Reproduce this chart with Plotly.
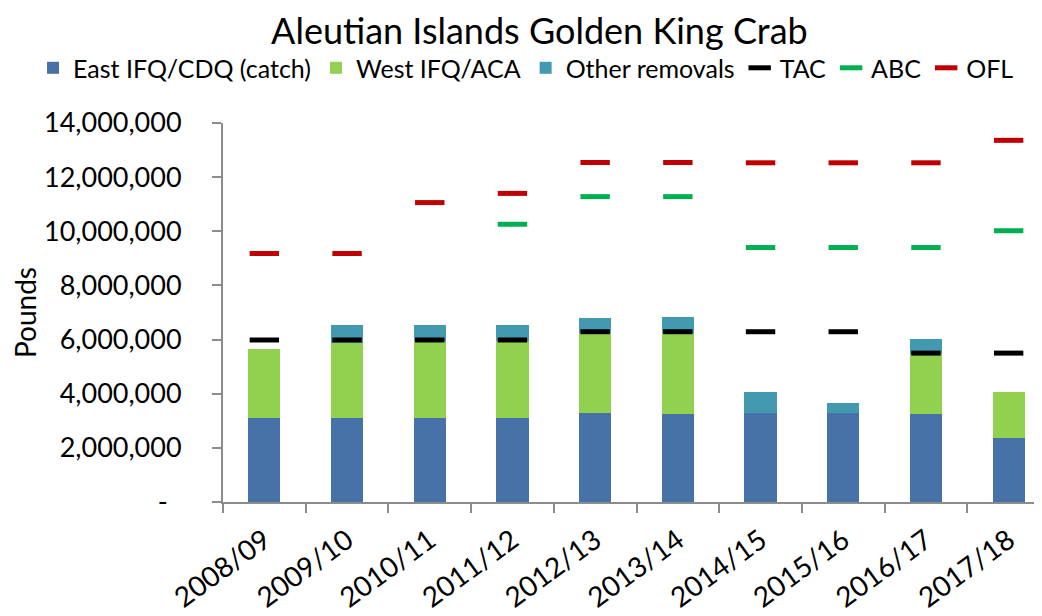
import plotly.graph_objects as go

seasons = ["2008/09", "2009/10", "2010/11", "2011/12", "2012/13",
           "2013/14", "2014/15", "2015/16", "2016/17", "2017/18"]
east_catch = [3110000, 3110000, 3110000, 3110000, 3280000,
              3260000, 3280000, 3280000, 3260000, 2370000]
west_catch = [2540000, 2760000, 2830000, 2830000, 2960000,
              2980000, 0, 0, 2200000, 1690000]
other_removals = [0, 660000, 590000, 590000, 540000,
                  610000, 780000, 370000, 560000, 0]
tac = [5985000, 5985000, 5985000, 5985000, 6290000,
       6290000, 6290000, 6290000, 5500000, 5500000]
abc = [None, None, None, 10260000, 11280000,
       11280000, 9400000, 9400000, 9400000, 10020000]
ofl = [9180000, 9180000, 11060000, 11400000, 12540000,
       12540000, 12530000, 12530000, 12530000, 13360000]
y_tickvals = [0, 2000000, 4000000, 6000000, 8000000, 10000000, 12000000, 14000000]
y_ticktext = ["-\u00a0\u00a0", "2,000,000", "4,000,000", "6,000,000", "8,000,000",
              "10,000,000", "12,000,000", "14,000,000"]

FONT = "Lato"
AXIS_COL = "#8C8C8C"
fig = go.Figure()
fig.add_trace(go.Bar(x=seasons, y=east_catch, name="East IFQ/CDQ (catch)",
                     marker=dict(color="#4672A8", line=dict(width=0))))
fig.add_trace(go.Bar(x=seasons, y=west_catch, name="West IFQ/ACA",
                     marker=dict(color="#92D050", line=dict(width=0))))
fig.add_trace(go.Bar(x=seasons, y=other_removals, name="Other removals",
                     marker=dict(color="#4399B0", line=dict(width=0))))
for name, vals, col in [("TAC", tac, "#000000"), ("ABC", abc, "#00B050"), ("OFL", ofl, "#C00000")]:
    fig.add_trace(go.Scatter(x=seasons, y=vals, name=name, mode="markers",
                             marker=dict(symbol="line-ew", size=21,
                                         line=dict(color=col, width=5))))

fig.update_layout(
    width=1042, height=616,
    barmode="stack", bargap=0.61,
    plot_bgcolor="white", paper_bgcolor="white",
    margin=dict(l=215, r=0, t=115, b=122, autoexpand=False),
    font=dict(family=FONT, color="black"),
    title=dict(text="Aleutian Islands Golden King Crab", x=0.51, xref="container",
               xanchor="center", y=0.962, yref="container", yanchor="middle",
               font=dict(size=36, family=FONT, color="black")),
    legend=dict(orientation="h", x=-0.2297, xref="paper", xanchor="left",
                y=1.145, yref="paper", yanchor="middle",
                font=dict(size=25, family=FONT), traceorder="normal", itemwidth=30),
    showlegend=True,
)
fig.update_xaxes(type="category", range=[-0.5, 9.5], showline=True,
                 linecolor=AXIS_COL, linewidth=2, ticks="outside", ticklen=9,
                 tickcolor=AXIS_COL, tickwidth=2, tickson="boundaries",
                 tickangle=-36, ticklabelstandoff=9,
                 tickfont=dict(size=28, family=FONT), showgrid=False, automargin=False)
fig.update_yaxes(range=[0, 14000000], tickvals=y_tickvals, ticktext=y_ticktext,
                 showline=True, linecolor=AXIS_COL, linewidth=2, ticks="outside",
                 ticklen=9, tickcolor=AXIS_COL, tickwidth=2, showgrid=False,
                 zeroline=False, tickfont=dict(size=27, family=FONT),
                 ticklabelstandoff=25, automargin=False,
                 title=dict(text="Pounds", font=dict(size=28, family=FONT), standoff=4))
fig.write_html("out.html")
